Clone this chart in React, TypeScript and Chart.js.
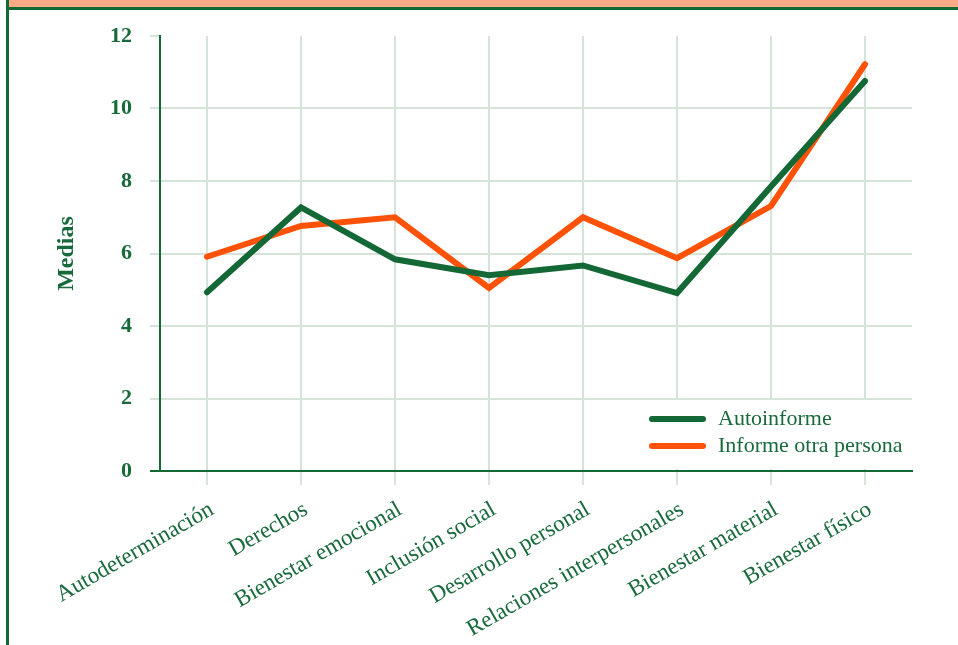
import React, { useEffect, useRef } from "react";
import { Chart, registerables } from "chart.js";

Chart.register(...registerables);

const categories = [
  "Autodeterminación",
  "Derechos",
  "Bienestar emocional",
  "Inclusión social",
  "Desarrollo personal",
  "Relaciones interpersonales",
  "Bienestar material",
  "Bienestar físico",
];
const autoinforme = [4.93, 7.27, 5.84, 5.4, 5.67, 4.91, 7.85, 10.76];
const informeOtra = [5.91, 6.76, 7.0, 5.05, 7.0, 5.87, 7.31, 11.22];
const seriesNames = ["Autoinforme", "Informe otra persona"];
const yAxisTitle = "Medias";

const GREEN = "#146836";
const ORANGE = "#ff5206";
const TEXT = "#186a3b";
const GRID = "#d5e3d8";
const FONT = '"Liberation Serif", "Times New Roman", serif';

const legendPlugin = {
  id: "insideLegend",
  afterDraw(chart: any) {
    const { ctx, chartArea } = chart;
    ctx.save();
    ctx.fillStyle = "#ffffff";
    ctx.fillRect(chartArea.right - 272, chartArea.bottom - 71, 271, 69);
    chart.data.datasets.forEach((ds: any, i: number) => {
      const y = chartArea.bottom - 52 + i * 27;
      const x0 = chartArea.right - 260;
      ctx.strokeStyle = ds.borderColor;
      ctx.lineWidth = 6;
      ctx.lineCap = "round";
      ctx.beginPath();
      ctx.moveTo(x0, y);
      ctx.lineTo(x0 + 51, y);
      ctx.stroke();
      ctx.fillStyle = TEXT;
      ctx.font = `22px ${FONT}`;
      ctx.textBaseline = "middle";
      ctx.textAlign = "left";
      ctx.fillText(ds.label, x0 + 66, y);
    });
    ctx.restore();
  },
};

export default function App() {
  const ref = useRef<HTMLCanvasElement | null>(null);

  useEffect(() => {
    const canvas = ref.current;
    if (!canvas) return;
    const chart = new Chart(canvas, {
      type: "line",
      data: {
        labels: categories,
        datasets: [
          {
            label: seriesNames[0],
            data: autoinforme,
            borderColor: GREEN,
            backgroundColor: GREEN,
            borderWidth: 6,
            borderCapStyle: "round",
            pointRadius: 0,
            tension: 0,
          },
          {
            label: seriesNames[1],
            data: informeOtra,
            borderColor: ORANGE,
            backgroundColor: ORANGE,
            borderWidth: 6,
            borderCapStyle: "round",
            pointRadius: 0,
            tension: 0,
          },
        ],
      },
      options: {
        animation: false,
        responsive: false,
        layout: { padding: { left: 0, top: 36, right: 46, bottom: 0 } },
        plugins: {
          legend: { display: false },
          tooltip: { enabled: false },
        },
        scales: {
          x: {
            offset: true,
            grid: {
              offset: false,
              color: GRID,
              lineWidth: 2,
              tickLength: 14,
            },
            border: { color: GREEN, width: 2 },
            ticks: {
              color: TEXT,
              font: { family: FONT, size: 23 },
              minRotation: 30,
              maxRotation: 30,
              autoSkip: false,
              padding: 11,
              labelOffset: 5,
            },
            afterFit: (scale: any) => {
              scale.height = 174;
            },
          },
          y: {
            min: 0,
            max: 12,
            ticks: {
              stepSize: 2,
              color: TEXT,
              font: { family: FONT, size: 22, weight: "bold" },
              padding: 18,
            },
            grid: {
              lineWidth: 2,
              tickLength: 10,
              color: (c: any) =>
                c.tick && c.tick.value === 12
                  ? "rgba(0,0,0,0)"
                  : c.tick && c.tick.value === 0
                  ? GREEN
                  : GRID,
              tickColor: (c: any) =>
                c.tick && c.tick.value === 0 ? GREEN : GRID,
            },
            border: { color: GREEN, width: 2 },
            title: {
              display: true,
              text: yAxisTitle,
              color: TEXT,
              font: { family: FONT, size: 24, weight: "bold" },
              padding: { top: 52, bottom: 0 },
            },
            afterFit: (scale: any) => {
              scale.width = 160;
            },
          },
        },
      },
      plugins: [legendPlugin],
    });
    return () => chart.destroy();
  }, []);

  return (
    <div
      style={{
        position: "absolute",
        left: 0,
        top: 0,
        width: 958,
        height: 645,
        background: "#ffffff",
        overflow: "hidden",
      }}
    >
      <div
        style={{
          position: "absolute",
          left: 6,
          top: 0,
          width: 952,
          height: 7,
          background: "#ffab85",
          borderBottom: `3px solid ${GREEN}`,
        }}
      />
      <div
        style={{
          position: "absolute",
          left: 6,
          top: 0,
          width: 3,
          height: 645,
          background: GREEN,
        }}
      />
      <canvas
        ref={ref}
        width={958}
        height={645}
        style={{ position: "absolute", left: 0, top: 0 }}
      />
    </div>
  );
}
